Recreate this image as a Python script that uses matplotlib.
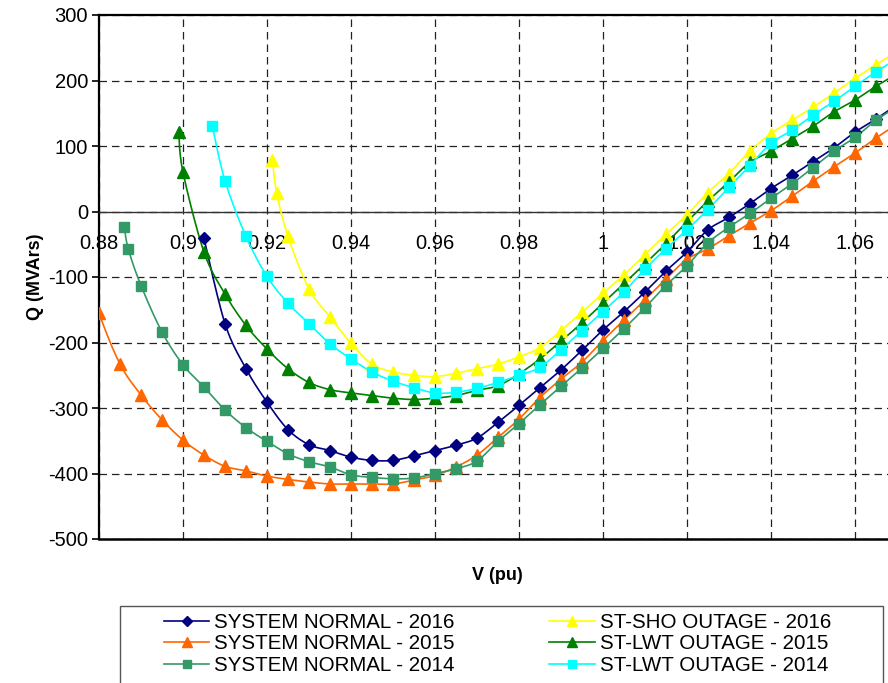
import numpy as np
import matplotlib.pyplot as plt
from matplotlib.lines import Line2D
from matplotlib.patches import Rectangle

plt.rcParams['font.family'] = ['Liberation Sans', 'DejaVu Sans']
plt.rcParams['axes.unicode_minus'] = False

# regular voltage steps used by most points (pu)
V_STEP = [0.880, 0.885, 0.890, 0.895, 0.900, 0.905, 0.910, 0.915, 0.920, 0.925,
          0.930, 0.935, 0.940, 0.945, 0.950, 0.955, 0.960, 0.965, 0.970, 0.975,
          0.980, 0.985, 0.990, 0.995, 1.000, 1.005, 1.010, 1.015, 1.020, 1.025,
          1.030, 1.035, 1.040, 1.045, 1.050, 1.055, 1.060, 1.065, 1.070]

# SYSTEM NORMAL - 2016
v_sn16 = V_STEP[5:]
q_sn16 = [-41, -171, -240, -291, -333, -356, -365, -375, -380, -380, -373, -365,
          -357, -346, -322, -296, -269, -242, -212, -181, -153, -123, -91, -62,
          -28, -9, 12, 35, 55, 76, 97, 121, 141, 163]

# SYSTEM NORMAL - 2015
v_sn15 = [0.878] + V_STEP
q_sn15 = [-105, -155, -233, -280, -318, -349, -372, -389, -396, -404, -409, -413,
          -416, -416, -416, -416, -410, -403, -390, -372, -345, -317, -284, -256,
          -230, -197, -166, -135, -103, -73, -57, -37, -18, 1, 23, 46, 68, 89,
          112, 133]

# SYSTEM NORMAL - 2014
v_sn14 = [0.886, 0.887] + V_STEP[2:]
q_sn14 = [-23, -58, -113, -184, -234, -268, -303, -330, -351, -370, -382, -390,
          -402, -406, -408, -407, -400, -393, -381, -351, -324, -295, -267, -239,
          -209, -179, -147, -113, -83, -48, -24, -3, 20, 42, 67, 92, 113, 139, 160]

# ST-SHO OUTAGE - 2016
v_sho16 = [0.9213, 0.9223] + V_STEP[9:]
q_sho16 = [79, 29, -38, -118, -161, -201, -233, -245, -250, -252, -247, -240,
           -233, -222, -208, -182, -154, -125, -97, -66, -35, -5, 29, 58, 92, 119,
           139, 159, 181, 203, 224, 244]

# ST-LWT OUTAGE - 2015
v_lwt15 = [0.899] + V_STEP[4:]
q_lwt15 = [121, 60, -62, -126, -174, -210, -240, -261, -272, -277, -281, -285,
           -287, -285, -281, -273, -266, -248, -225, -198, -170, -140, -110, -80,
           -49, -16, 16, 45, 75, 92, 111, 130, 152, 170, 191, 210]

# ST-LWT OUTAGE - 2014
v_lwt14 = [0.907] + V_STEP[6:]
q_lwt14 = [130, 47, -38, -99, -140, -171, -202, -225, -245, -259, -269, -277,
           -276, -270, -261, -250, -238, -211, -182, -153, -123, -88, -57, -28, 3,
           37, 70, 104, 124, 147, 168, 191, 213, 233]

series = [
    ("SYSTEM NORMAL - 2016", v_sn16, q_sn16, "#000080", "D", 6.5),
    ("SYSTEM NORMAL - 2015", v_sn15, q_sn15, "#FF6600", "^", 8),
    ("SYSTEM NORMAL - 2014", v_sn14, q_sn14, "#339966", "s", 7),
    ("ST-SHO OUTAGE - 2016", v_sho16, q_sho16, "#FFFF00", "^", 8),
    ("ST-LWT OUTAGE - 2015", v_lwt15, q_lwt15, "#008000", "^", 8),
    ("ST-LWT OUTAGE - 2014", v_lwt14, q_lwt14, "#00FFFF", "s", 7),
]


# smoothed line through the points (Catmull-Rom, like Excel smoothing)
def smooth(xs, ys, n=12):
    sx = np.asarray(xs) * 4200.0
    sy = np.asarray(ys) * 0.655
    P = np.column_stack([sx, sy])
    P = np.vstack([P[0], P, P[-1]])
    t = np.linspace(0, 1, n, endpoint=False)[:, None]
    out = []
    for i in range(1, len(P) - 2):
        p0, p1, p2, p3 = P[i - 1], P[i], P[i + 1], P[i + 2]
        seg = 0.5 * (2 * p1 + (-p0 + p2) * t
                     + (2 * p0 - 5 * p1 + 4 * p2 - p3) * t ** 2
                     + (-p0 + 3 * p1 - 3 * p2 + p3) * t ** 3)
        out.append(seg)
    out.append(P[-2][None])
    out = np.vstack(out)
    return out[:, 0] / 4200.0, out[:, 1] / 0.655


fig = plt.figure(figsize=(8.88, 6.83), dpi=100)
ax = fig.add_axes([99 / 888, 1 - 539 / 683, 789 / 888, 524 / 683])

ax.grid(True, color='#222222', linestyle=(0, (6, 4)), linewidth=0.9)
ax.set_axisbelow(True)

handles = []
for name, v, q, col, mk, ms in series:
    xs, ys = smooth(v, q)
    ax.plot(xs, ys, color=col, linewidth=1.2, zorder=3)
    ax.plot(v, q, linestyle='none', marker=mk, markersize=ms, color=col,
            markeredgecolor=col, zorder=4)
    handles.append(Line2D([0], [0], color=col, linewidth=1.2, marker=mk,
                          markersize=ms - 1, markeredgecolor=col, label=name))

ax.set_xlim(0.88, 1.0679)
ax.set_ylim(-500, 300)

xt = [0.88, 0.90, 0.92, 0.94, 0.96, 0.98, 1.00, 1.02, 1.04, 1.06]
xl = ['0.88', '0.9', '0.92', '0.94', '0.96', '0.98', '1', '1.02', '1.04', '1.06']
ax.set_xticks(xt)
ax.set_xticklabels(xl)
ax.set_yticks(range(-500, 301, 100))

ax.spines['bottom'].set_position(('data', 0))
ax.spines['bottom'].set_color('#333333')
ax.spines['bottom'].set_linewidth(1.0)
ax.spines['right'].set_visible(False)
ax.spines['left'].set_linewidth(1.6)
ax.spines['top'].set_linewidth(1.6)
ax.axhline(-500, color='black', linewidth=1.8, clip_on=False, zorder=5)

ax.tick_params(axis='x', length=0, pad=16, labelsize=14.5)
ax.tick_params(axis='y', length=5, width=1.2, pad=3, labelsize=14.5,
               direction='out')

fig.text(35 / 888, 1 - 277 / 683, 'Q (MVArs)', rotation=90, fontsize=13,
         fontweight='bold', ha='center', va='center')
fig.text(497 / 888, 1 - 575 / 683, 'V (pu)', fontsize=13,
         fontweight='bold', ha='center', va='center')

# legend box
fig.patches.append(Rectangle((120 / 888, -0.05), 763 / 888, 0.05 + (683 - 606) / 683,
                             transform=fig.transFigure, facecolor='white',
                             edgecolor='#555555', linewidth=1.0))
fig.legend(handles, [s[0] for s in series],
           ncol=2, frameon=False, loc='upper left',
           bbox_to_anchor=(164 / 888, 1 - 613 / 683), borderpad=0,
           borderaxespad=0, handlelength=2.2, handletextpad=0.25,
           columnspacing=4.6, labelspacing=0.12, fontsize=14.8)

plt.savefig('out.png', dpi=100)
